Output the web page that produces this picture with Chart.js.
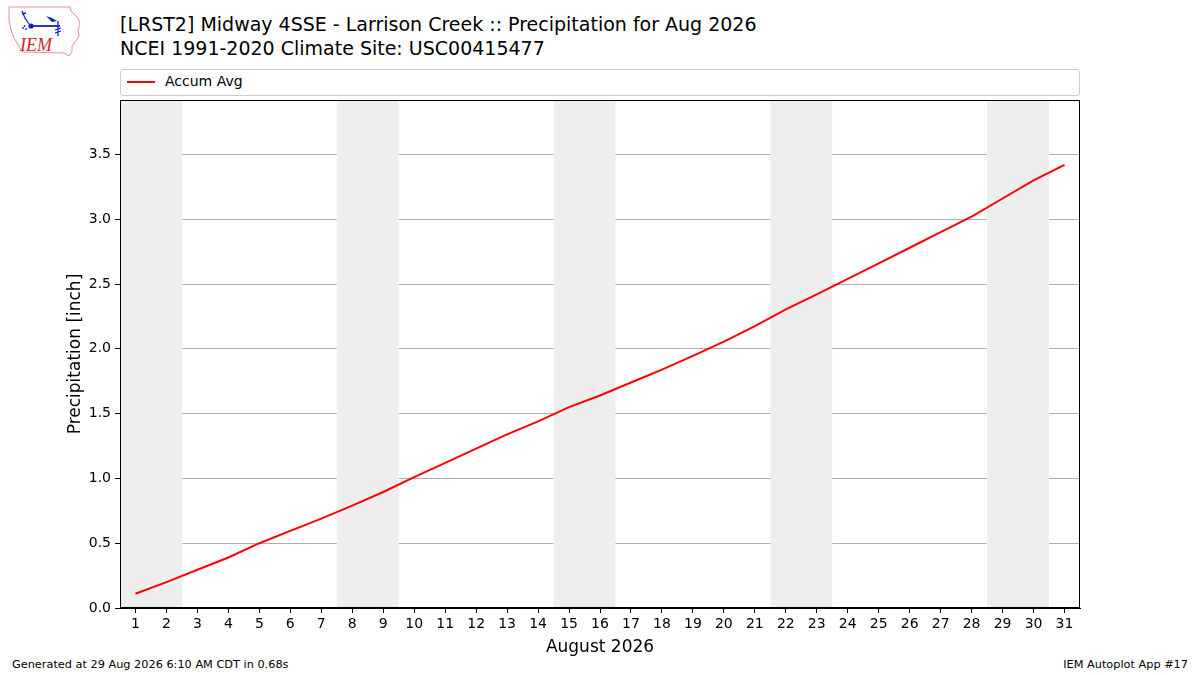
<!DOCTYPE html>
<html>
<head>
<meta charset="utf-8">
<script src="https://cdn.jsdelivr.net/npm/chart.js@4/dist/chart.umd.min.js"></script>
<style>
  html, body { margin: 0; padding: 0; background: #fff; }
  body { width: 1200px; height: 675px; position: relative; overflow: hidden; font-family: "DejaVu Sans", sans-serif; }
  #chart { position: absolute; left: 0; top: 0; }
  .title { position: absolute; left: 120px; font-size: 19px; color: #000; white-space: nowrap; }
  #legend { position: absolute; left: 120px; top: 69px; width: 958px; height: 25px; border: 1px solid #cccccc; border-radius: 3px; background: #fff; }
  #legend .swatch { position: absolute; left: 6px; top: 11px; width: 28px; height: 2px; background: #ff0000; }
  #legend .label { position: absolute; left: 44px; top: 3px; font-size: 14px; }
  .foot { position: absolute; top: 658px; font-size: 11.3px; color: #000; white-space: nowrap; }
  #logo { position: absolute; left: 0; top: 0; }
</style>
</head>
<body>
<svg id="logo" width="90" height="62" viewBox="0 0 90 62">
  <path d="M9 7 L70 7 L71 11 L74 14 L78 18 L80 24 L78 30 L79 36 L75 42 L72 46 L72 52 L69 56 L64 53 L22 52 L19 46 L14 38 L11 30 L9 20 Z"
        fill="none" stroke="#e89090" stroke-width="1"/>
  <path d="M22 11 L25 18 M22 14 L26 13 M25 18 L29 24" stroke="#1020c8" stroke-width="1.3" fill="none"/>
  <circle cx="23" cy="28" r="0.9" fill="#1020c8"/>
  <circle cx="26" cy="29" r="0.9" fill="#1020c8"/>
  <circle cx="24.5" cy="26" r="0.9" fill="#1020c8"/>
  <circle cx="31" cy="26" r="2.6" fill="#1020c8"/>
  <path d="M31 26 L60 26" stroke="#1020c8" stroke-width="1.8" fill="none"/>
  <path d="M46 16 L52 18 L57 21 L52 22 Z" fill="#1020c8"/>
  <path d="M58 21 L58 36 M55 30 L61 28 M55 33 L61 31" stroke="#1020c8" stroke-width="1.3" fill="none"/>
  <text x="20" y="51" font-family="Liberation Serif, serif" font-style="italic" font-size="18" fill="#d02828">IEM</text>
</svg>
<div class="title" style="top:13px">[LRST2] Midway 4SSE - Larrison Creek :: Precipitation for Aug 2026</div>
<div class="title" style="top:37px">NCEI 1991-2020 Climate Site: USC00415477</div>
<div id="legend"><div class="swatch"></div><div class="label">Accum Avg</div></div>
<div class="foot" style="left:12px">Generated at 29 Aug 2026 6:10 AM CDT in 0.68s</div>
<div class="foot" style="right:12px">IEM Autoplot App #17</div>
<canvas id="chart" width="1200" height="675"></canvas>
<script>
// Days of the month and accumulated average precipitation (inch)
const days = [1, 2, 3, 4, 5, 6, 7, 8, 9, 10, 11, 12, 13, 14, 15, 16,
    17, 18, 19, 20, 21, 22, 23, 24, 25, 26, 27, 28, 29, 30, 31];
const accumAvg = [0.11, 0.20, 0.295, 0.39, 0.50, 0.595, 0.69, 0.79, 0.895, 1.01,
    1.12, 1.23, 1.34, 1.44, 1.55, 1.64, 1.74, 1.84, 1.945, 2.055,
    2.175, 2.305, 2.42, 2.54, 2.66, 2.78, 2.90, 3.02, 3.16, 3.30, 3.42];
const yTicks = [0, 0.5, 1.0, 1.5, 2.0, 2.5, 3.0, 3.5];
// Weekend spans (Sat-Sun), in day units
const weekendStart = [0.5, 7.5, 14.5, 21.5, 28.5];
const weekendEnd = [2.5, 9.5, 16.5, 23.5, 30.5];

// Shade weekends behind the line and frame the plot area
const weekendPlugin = {
    id: 'weekends',
    beforeDatasetsDraw(chart) {
        const { ctx, chartArea, scales } = chart;
        ctx.save();
        ctx.fillStyle = '#eeeeee';
        weekendStart.forEach((s, i) => {
            const x0 = Math.max(scales.x.getPixelForValue(s), chartArea.left);
            const x1 = scales.x.getPixelForValue(weekendEnd[i]);
            ctx.fillRect(x0, chartArea.top, x1 - x0, chartArea.bottom - chartArea.top);
        });
        ctx.restore();
    },
    afterDraw(chart) {
        const { ctx, chartArea } = chart;
        ctx.save();
        ctx.strokeStyle = '#000';
        ctx.lineWidth = 1;
        ctx.strokeRect(chartArea.left + 0.5, chartArea.top + 0.5,
            chartArea.right - chartArea.left - 1, chartArea.bottom - chartArea.top - 1);
        ctx.restore();
    }
};

const tickFont = { family: 'DejaVu Sans', size: 14 };

new Chart(document.getElementById('chart'), {
    type: 'line',
    data: {
        datasets: [{
            label: 'Accum Avg',
            data: days.map((d, i) => ({ x: d, y: accumAvg[i] })),
            borderColor: '#ff0000',
            borderWidth: 2,
            pointRadius: 0,
            tension: 0,
            fill: false
        }]
    },
    options: {
        responsive: false,
        animation: false,
        devicePixelRatio: 1,
        layout: { padding: { left: 65, right: 120, top: 100, bottom: 17 } },
        plugins: {
            legend: { display: false },
            tooltip: { enabled: false }
        },
        scales: {
            x: {
                type: 'linear',
                min: 0.5,
                max: 31.5,
                afterBuildTicks: s => { s.ticks = days.map(v => ({ value: v })); },
                afterFit: s => { s.height = 50; },
                grid: { drawOnChartArea: false, drawTicks: true, tickLength: 5, tickColor: '#000' },
                border: { display: true, color: '#000' },
                ticks: { color: '#000', font: tickFont, padding: 3, maxRotation: 0, autoSkip: false,
                    callback: v => String(v) },
                title: { display: true, text: 'August 2026', color: '#000',
                    font: { family: 'DejaVu Sans', size: 17 }, padding: { top: 2, bottom: 0 } }
            },
            y: {
                type: 'linear',
                min: 0,
                max: 3.92,
                afterBuildTicks: s => { s.ticks = yTicks.map(v => ({ value: v })); },
                afterFit: s => { s.width = 55; },
                grid: { color: '#b0b0b0', lineWidth: 1, drawTicks: true, tickLength: 5, tickColor: '#000' },
                border: { display: true, color: '#000' },
                ticks: { color: '#000', font: tickFont, padding: 4,
                    callback: v => Number(v).toFixed(1) },
                title: { display: true, text: 'Precipitation [inch]', color: '#000',
                    font: { family: 'DejaVu Sans', size: 17 }, padding: { top: 0, bottom: 0 } }
            }
        }
    },
    plugins: [weekendPlugin]
});
</script>
</body>
</html>
